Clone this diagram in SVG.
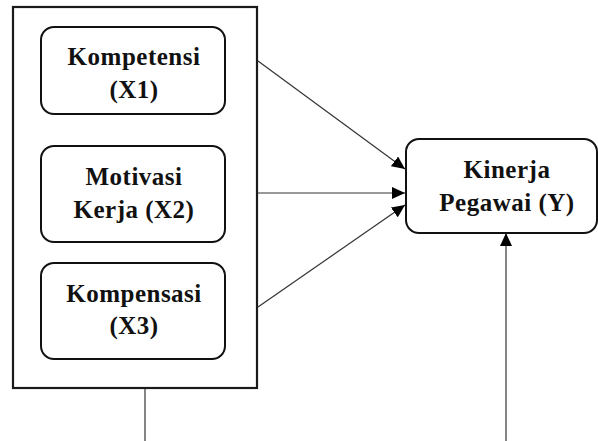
<svg xmlns="http://www.w3.org/2000/svg" width="598" height="441" viewBox="0 0 598 441">
<style>
.box{fill:#fff;stroke:#111;stroke-width:2}
.outer{fill:#fff;stroke:#1a1a1a;stroke-width:2.2}
.lbl{font-family:"Liberation Serif","Times New Roman",serif;font-weight:bold;font-size:25px;letter-spacing:0.5px;fill:#111;text-anchor:middle}
.con{stroke:#333;stroke-width:1.2;fill:none}
</style>
<defs>
<marker id="ah" markerUnits="userSpaceOnUse" markerWidth="13" markerHeight="12" refX="13" refY="6" orient="auto">
<path d="M0,0 L13,6 L0,12 Z" fill="#000"/>
</marker>
</defs>
<g id="outer"><rect class="outer" x="13" y="7" width="244" height="381"/></g>
<g id="x1">
<rect class="box" x="41" y="27" width="184" height="87" rx="13"/>
<text class="lbl" x="134" y="65">Kompetensi</text>
<text class="lbl" x="134" y="98">(X1)</text>
</g>
<g id="x2">
<rect class="box" x="41" y="146" width="184" height="96" rx="13"/>
<text class="lbl" x="134" y="185">Motivasi</text>
<text class="lbl" x="134" y="218">Kerja (X2)</text>
</g>
<g id="x3">
<rect class="box" x="41" y="263" width="184" height="96" rx="13"/>
<text class="lbl" x="134" y="302">Kompensasi</text>
<text class="lbl" x="134" y="334">(X3)</text>
</g>
<g id="y">
<rect class="box" x="406" y="139" width="191" height="94" rx="13"/>
<text class="lbl" x="507" y="178">Kinerja</text>
<text class="lbl" x="507" y="211">Pegawai (Y)</text>
</g>
<g id="connectors">
<line class="con" x1="258" y1="61" x2="405" y2="169" marker-end="url(#ah)"/>
<line class="con" x1="258" y1="193" x2="405" y2="193" marker-end="url(#ah)"/>
<line class="con" x1="258" y1="307" x2="405" y2="205" marker-end="url(#ah)"/>
<line class="con" x1="506" y1="441" x2="506" y2="233" marker-end="url(#ah)"/>
<line class="con" x1="145" y1="389" x2="145" y2="441"/>
</g>
</svg>
